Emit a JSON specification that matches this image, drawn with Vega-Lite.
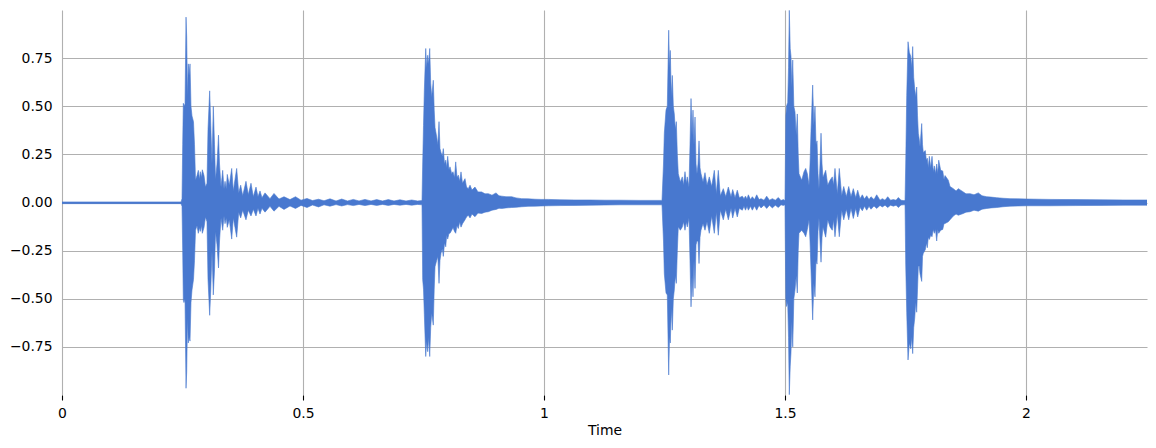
{
  "$schema": "https://vega.github.io/schema/vega-lite/v6.json",
  "width": 1085,
  "height": 385,
  "autosize": {"type": "none"},
  "padding": {"left": 62, "top": 10, "right": 9, "bottom": 53},
  "background": "white",
  "config": {
    "view": {"stroke": null},
    "font": "DejaVu Sans",
    "axis": {
      "labelFont": "DejaVu Sans",
      "titleFont": "DejaVu Sans",
      "labelFontSize": 13.9,
      "titleFontSize": 13.9,
      "labelColor": "black",
      "titleColor": "black",
      "titleFontWeight": "normal",
      "gridColor": "#b0b0b0",
      "gridWidth": 1.1,
      "gridOpacity": 1,
      "domain": false,
      "zindex": 1
    }
  },
  "data": {
    "values": [
      {"t": 0.0, "hi": 0.003, "lo": -0.006},
      {"t": 0.2469, "hi": 0.003, "lo": -0.006},
      {"t": 0.249, "hi": 0.02, "lo": -0.02},
      {"t": 0.2504, "hi": 0.3, "lo": -0.25},
      {"t": 0.2517, "hi": 0.515, "lo": -0.507},
      {"t": 0.2531, "hi": 0.51, "lo": -0.52},
      {"t": 0.2552, "hi": 0.5, "lo": -0.5},
      {"t": 0.2573, "hi": 0.963, "lo": -0.965},
      {"t": 0.2587, "hi": 0.86, "lo": -0.88},
      {"t": 0.2604, "hi": 0.55, "lo": -0.6},
      {"t": 0.262, "hi": 0.72, "lo": -0.73},
      {"t": 0.2635, "hi": 0.66, "lo": -0.7},
      {"t": 0.2656, "hi": 0.72, "lo": -0.72},
      {"t": 0.2676, "hi": 0.5, "lo": -0.52},
      {"t": 0.2697, "hi": 0.45, "lo": -0.455},
      {"t": 0.2728, "hi": 0.42, "lo": -0.4},
      {"t": 0.2749, "hi": 0.3, "lo": -0.3},
      {"t": 0.277, "hi": 0.116, "lo": -0.144},
      {"t": 0.2801, "hi": 0.14, "lo": -0.12},
      {"t": 0.2828, "hi": 0.167, "lo": -0.16},
      {"t": 0.2853, "hi": 0.12, "lo": -0.13},
      {"t": 0.2869, "hi": 0.16, "lo": -0.15},
      {"t": 0.2894, "hi": 0.13, "lo": -0.12},
      {"t": 0.2911, "hi": 0.17, "lo": -0.16},
      {"t": 0.2946, "hi": 0.14, "lo": -0.13},
      {"t": 0.2977, "hi": 0.08, "lo": -0.075},
      {"t": 0.3008, "hi": 0.1, "lo": -0.1},
      {"t": 0.3029, "hi": 0.38, "lo": -0.4},
      {"t": 0.3064, "hi": 0.58, "lo": -0.586},
      {"t": 0.3087, "hi": 0.4, "lo": -0.45},
      {"t": 0.3112, "hi": 0.2, "lo": -0.25},
      {"t": 0.3139, "hi": 0.5, "lo": -0.48},
      {"t": 0.3164, "hi": 0.3, "lo": -0.35},
      {"t": 0.3185, "hi": 0.12, "lo": -0.15},
      {"t": 0.3216, "hi": 0.2, "lo": -0.22},
      {"t": 0.3247, "hi": 0.35, "lo": -0.34},
      {"t": 0.3268, "hi": 0.2, "lo": -0.2},
      {"t": 0.3299, "hi": 0.08, "lo": -0.08},
      {"t": 0.3334, "hi": 0.167, "lo": -0.144},
      {"t": 0.3361, "hi": 0.07, "lo": -0.07},
      {"t": 0.3382, "hi": 0.11, "lo": -0.11},
      {"t": 0.3409, "hi": 0.07, "lo": -0.08},
      {"t": 0.3429, "hi": 0.146, "lo": -0.129},
      {"t": 0.3471, "hi": 0.09, "lo": -0.09},
      {"t": 0.3521, "hi": 0.177, "lo": -0.19},
      {"t": 0.3554, "hi": 0.06, "lo": -0.08},
      {"t": 0.3589, "hi": 0.12, "lo": -0.13},
      {"t": 0.3624, "hi": 0.177, "lo": -0.18},
      {"t": 0.3666, "hi": 0.05, "lo": -0.05},
      {"t": 0.3707, "hi": 0.09, "lo": -0.08},
      {"t": 0.3749, "hi": 0.035, "lo": -0.04},
      {"t": 0.3817, "hi": 0.11, "lo": -0.09},
      {"t": 0.3865, "hi": 0.04, "lo": -0.04},
      {"t": 0.3921, "hi": 0.1, "lo": -0.07},
      {"t": 0.3969, "hi": 0.03, "lo": -0.035},
      {"t": 0.4025, "hi": 0.08, "lo": -0.07},
      {"t": 0.4066, "hi": 0.03, "lo": -0.03},
      {"t": 0.4108, "hi": 0.06, "lo": -0.06},
      {"t": 0.4149, "hi": 0.025, "lo": -0.03},
      {"t": 0.4212, "hi": 0.05, "lo": -0.05},
      {"t": 0.4315, "hi": 0.02, "lo": -0.02},
      {"t": 0.4398, "hi": 0.047, "lo": -0.045},
      {"t": 0.4502, "hi": 0.018, "lo": -0.02},
      {"t": 0.4606, "hi": 0.03, "lo": -0.036},
      {"t": 0.473, "hi": 0.015, "lo": -0.018},
      {"t": 0.4844, "hi": 0.03, "lo": -0.031},
      {"t": 0.4959, "hi": 0.012, "lo": -0.015},
      {"t": 0.5083, "hi": 0.021, "lo": -0.026},
      {"t": 0.5197, "hi": 0.01, "lo": -0.013},
      {"t": 0.5322, "hi": 0.017, "lo": -0.023},
      {"t": 0.5436, "hi": 0.009, "lo": -0.012},
      {"t": 0.556, "hi": 0.019, "lo": -0.019},
      {"t": 0.5685, "hi": 0.008, "lo": -0.011},
      {"t": 0.5803, "hi": 0.018, "lo": -0.018},
      {"t": 0.5923, "hi": 0.008, "lo": -0.011},
      {"t": 0.6044, "hi": 0.016, "lo": -0.016},
      {"t": 0.6162, "hi": 0.008, "lo": -0.01},
      {"t": 0.6286, "hi": 0.016, "lo": -0.016},
      {"t": 0.6411, "hi": 0.008, "lo": -0.01},
      {"t": 0.6529, "hi": 0.015, "lo": -0.015},
      {"t": 0.6649, "hi": 0.008, "lo": -0.01},
      {"t": 0.677, "hi": 0.015, "lo": -0.015},
      {"t": 0.6888, "hi": 0.008, "lo": -0.01},
      {"t": 0.7012, "hi": 0.014, "lo": -0.014},
      {"t": 0.7137, "hi": 0.008, "lo": -0.01},
      {"t": 0.7255, "hi": 0.013, "lo": -0.014},
      {"t": 0.7376, "hi": 0.008, "lo": -0.01},
      {"t": 0.7469, "hi": 0.01, "lo": -0.012},
      {"t": 0.7483, "hi": 0.2, "lo": -0.4},
      {"t": 0.75, "hi": 0.4, "lo": -0.45},
      {"t": 0.7517, "hi": 0.58, "lo": -0.58},
      {"t": 0.7546, "hi": 0.8, "lo": -0.8},
      {"t": 0.7566, "hi": 0.7, "lo": -0.72},
      {"t": 0.7587, "hi": 0.765, "lo": -0.775},
      {"t": 0.7608, "hi": 0.72, "lo": -0.7},
      {"t": 0.7629, "hi": 0.8, "lo": -0.8},
      {"t": 0.7649, "hi": 0.62, "lo": -0.65},
      {"t": 0.767, "hi": 0.548, "lo": -0.575},
      {"t": 0.7703, "hi": 0.635, "lo": -0.637},
      {"t": 0.7722, "hi": 0.48, "lo": -0.45},
      {"t": 0.7739, "hi": 0.39, "lo": -0.334},
      {"t": 0.7774, "hi": 0.34, "lo": -0.3},
      {"t": 0.7797, "hi": 0.3, "lo": -0.28},
      {"t": 0.7822, "hi": 0.42, "lo": -0.42},
      {"t": 0.7842, "hi": 0.28, "lo": -0.3},
      {"t": 0.7863, "hi": 0.26, "lo": -0.264},
      {"t": 0.789, "hi": 0.24, "lo": -0.24},
      {"t": 0.7911, "hi": 0.28, "lo": -0.28},
      {"t": 0.7936, "hi": 0.2, "lo": -0.21},
      {"t": 0.7961, "hi": 0.22, "lo": -0.23},
      {"t": 0.7981, "hi": 0.18, "lo": -0.17},
      {"t": 0.8002, "hi": 0.24, "lo": -0.19},
      {"t": 0.8029, "hi": 0.17, "lo": -0.16},
      {"t": 0.805, "hi": 0.185, "lo": -0.16},
      {"t": 0.8085, "hi": 0.15, "lo": -0.144},
      {"t": 0.8112, "hi": 0.16, "lo": -0.13},
      {"t": 0.8143, "hi": 0.13, "lo": -0.15},
      {"t": 0.8168, "hi": 0.211, "lo": -0.16},
      {"t": 0.8195, "hi": 0.13, "lo": -0.12},
      {"t": 0.8222, "hi": 0.142, "lo": -0.135},
      {"t": 0.8251, "hi": 0.11, "lo": -0.1},
      {"t": 0.8278, "hi": 0.159, "lo": -0.128},
      {"t": 0.8309, "hi": 0.1, "lo": -0.11},
      {"t": 0.8361, "hi": 0.124, "lo": -0.09},
      {"t": 0.8392, "hi": 0.08, "lo": -0.075},
      {"t": 0.8429, "hi": 0.072, "lo": -0.066},
      {"t": 0.8465, "hi": 0.09, "lo": -0.08},
      {"t": 0.8506, "hi": 0.065, "lo": -0.06},
      {"t": 0.8568, "hi": 0.08, "lo": -0.074},
      {"t": 0.8631, "hi": 0.055, "lo": -0.055},
      {"t": 0.8707, "hi": 0.055, "lo": -0.057},
      {"t": 0.8776, "hi": 0.045, "lo": -0.05},
      {"t": 0.8844, "hi": 0.046, "lo": -0.048},
      {"t": 0.8921, "hi": 0.038, "lo": -0.04},
      {"t": 0.9004, "hi": 0.05, "lo": -0.036},
      {"t": 0.9066, "hi": 0.035, "lo": -0.03},
      {"t": 0.9122, "hi": 0.033, "lo": -0.031},
      {"t": 0.9212, "hi": 0.03, "lo": -0.028},
      {"t": 0.933, "hi": 0.03, "lo": -0.026},
      {"t": 0.9419, "hi": 0.024, "lo": -0.025},
      {"t": 0.9537, "hi": 0.02, "lo": -0.022},
      {"t": 0.9668, "hi": 0.019, "lo": -0.02},
      {"t": 0.9813, "hi": 0.017, "lo": -0.019},
      {"t": 0.9938, "hi": 0.016, "lo": -0.018},
      {"t": 1.0089, "hi": 0.016, "lo": -0.017},
      {"t": 1.0332, "hi": 0.014, "lo": -0.016},
      {"t": 1.0643, "hi": 0.013, "lo": -0.015},
      {"t": 1.0954, "hi": 0.013, "lo": -0.014},
      {"t": 1.1266, "hi": 0.012, "lo": -0.013},
      {"t": 1.1577, "hi": 0.012, "lo": -0.012},
      {"t": 1.1992, "hi": 0.011, "lo": -0.012},
      {"t": 1.2448, "hi": 0.011, "lo": -0.012},
      {"t": 1.2479, "hi": 0.2, "lo": -0.2},
      {"t": 1.2496, "hi": 0.36, "lo": -0.37},
      {"t": 1.2531, "hi": 0.48, "lo": -0.47},
      {"t": 1.2558, "hi": 0.5, "lo": -0.48},
      {"t": 1.2587, "hi": 0.895, "lo": -0.896},
      {"t": 1.2604, "hi": 0.7, "lo": -0.7},
      {"t": 1.262, "hi": 0.79, "lo": -0.73},
      {"t": 1.2641, "hi": 0.55, "lo": -0.55},
      {"t": 1.2662, "hi": 0.66, "lo": -0.663},
      {"t": 1.2683, "hi": 0.5, "lo": -0.5},
      {"t": 1.2703, "hi": 0.46, "lo": -0.455},
      {"t": 1.2724, "hi": 0.38, "lo": -0.38},
      {"t": 1.2745, "hi": 0.42, "lo": -0.42},
      {"t": 1.2766, "hi": 0.25, "lo": -0.25},
      {"t": 1.2786, "hi": 0.15, "lo": -0.126},
      {"t": 1.2828, "hi": 0.107, "lo": -0.144},
      {"t": 1.2869, "hi": 0.133, "lo": -0.127},
      {"t": 1.2894, "hi": 0.09, "lo": -0.1},
      {"t": 1.2925, "hi": 0.16, "lo": -0.144},
      {"t": 1.2952, "hi": 0.1, "lo": -0.1},
      {"t": 1.2973, "hi": 0.133, "lo": -0.127},
      {"t": 1.3008, "hi": 0.08, "lo": -0.08},
      {"t": 1.3029, "hi": 0.3, "lo": -0.3},
      {"t": 1.305, "hi": 0.54, "lo": -0.542},
      {"t": 1.3071, "hi": 0.35, "lo": -0.38},
      {"t": 1.3091, "hi": 0.48, "lo": -0.49},
      {"t": 1.3112, "hi": 0.3, "lo": -0.3},
      {"t": 1.3133, "hi": 0.444, "lo": -0.446},
      {"t": 1.3154, "hi": 0.2, "lo": -0.22},
      {"t": 1.3174, "hi": 0.15, "lo": -0.2},
      {"t": 1.3195, "hi": 0.2, "lo": -0.2},
      {"t": 1.3216, "hi": 0.32, "lo": -0.317},
      {"t": 1.3237, "hi": 0.18, "lo": -0.18},
      {"t": 1.3257, "hi": 0.15, "lo": -0.144},
      {"t": 1.3299, "hi": 0.107, "lo": -0.109},
      {"t": 1.334, "hi": 0.155, "lo": -0.144},
      {"t": 1.3382, "hi": 0.09, "lo": -0.1},
      {"t": 1.3429, "hi": 0.133, "lo": -0.16},
      {"t": 1.3479, "hi": 0.083, "lo": -0.07},
      {"t": 1.3533, "hi": 0.167, "lo": -0.16},
      {"t": 1.3575, "hi": 0.046, "lo": -0.05},
      {"t": 1.3616, "hi": 0.167, "lo": -0.17},
      {"t": 1.3658, "hi": 0.035, "lo": -0.04},
      {"t": 1.372, "hi": 0.072, "lo": -0.09},
      {"t": 1.377, "hi": 0.03, "lo": -0.035},
      {"t": 1.3824, "hi": 0.08, "lo": -0.09},
      {"t": 1.388, "hi": 0.03, "lo": -0.03},
      {"t": 1.3915, "hi": 0.067, "lo": -0.08},
      {"t": 1.3963, "hi": 0.025, "lo": -0.03},
      {"t": 1.401, "hi": 0.064, "lo": -0.075},
      {"t": 1.4052, "hi": 0.025, "lo": -0.03},
      {"t": 1.4114, "hi": 0.033, "lo": -0.04},
      {"t": 1.4149, "hi": 0.02, "lo": -0.02},
      {"t": 1.418, "hi": 0.033, "lo": -0.04},
      {"t": 1.4212, "hi": 0.018, "lo": -0.02},
      {"t": 1.4239, "hi": 0.04, "lo": -0.04},
      {"t": 1.4284, "hi": 0.015, "lo": -0.02},
      {"t": 1.4322, "hi": 0.03, "lo": -0.04},
      {"t": 1.4367, "hi": 0.015, "lo": -0.018},
      {"t": 1.4413, "hi": 0.04, "lo": -0.04},
      {"t": 1.4461, "hi": 0.015, "lo": -0.015},
      {"t": 1.4502, "hi": 0.02, "lo": -0.028},
      {"t": 1.4564, "hi": 0.012, "lo": -0.014},
      {"t": 1.462, "hi": 0.033, "lo": -0.031},
      {"t": 1.4678, "hi": 0.012, "lo": -0.014},
      {"t": 1.4737, "hi": 0.02, "lo": -0.028},
      {"t": 1.4799, "hi": 0.012, "lo": -0.014},
      {"t": 1.4861, "hi": 0.026, "lo": -0.026},
      {"t": 1.4917, "hi": 0.01, "lo": -0.012},
      {"t": 1.4965, "hi": 0.015, "lo": -0.015},
      {"t": 1.5, "hi": 0.01, "lo": -0.012},
      {"t": 1.5017, "hi": 0.45, "lo": -0.5},
      {"t": 1.5031, "hi": 0.5, "lo": -0.54},
      {"t": 1.5056, "hi": 0.52, "lo": -0.52},
      {"t": 1.5073, "hi": 0.7, "lo": -0.7},
      {"t": 1.5089, "hi": 0.998, "lo": -0.998},
      {"t": 1.5108, "hi": 0.8, "lo": -0.85},
      {"t": 1.5124, "hi": 0.76, "lo": -0.78},
      {"t": 1.5141, "hi": 0.6, "lo": -0.62},
      {"t": 1.516, "hi": 0.74, "lo": -0.75},
      {"t": 1.5183, "hi": 0.5, "lo": -0.5},
      {"t": 1.5207, "hi": 0.47, "lo": -0.455},
      {"t": 1.5232, "hi": 0.35, "lo": -0.38},
      {"t": 1.5255, "hi": 0.46, "lo": -0.47},
      {"t": 1.5274, "hi": 0.25, "lo": -0.25},
      {"t": 1.529, "hi": 0.15, "lo": -0.16},
      {"t": 1.5346, "hi": 0.116, "lo": -0.144},
      {"t": 1.5394, "hi": 0.16, "lo": -0.16},
      {"t": 1.5429, "hi": 0.177, "lo": -0.178},
      {"t": 1.5463, "hi": 0.15, "lo": -0.14},
      {"t": 1.5498, "hi": 0.09, "lo": -0.09},
      {"t": 1.5519, "hi": 0.2, "lo": -0.2},
      {"t": 1.5539, "hi": 0.37, "lo": -0.35},
      {"t": 1.5574, "hi": 0.61, "lo": -0.61},
      {"t": 1.5598, "hi": 0.4, "lo": -0.42},
      {"t": 1.5622, "hi": 0.5, "lo": -0.49},
      {"t": 1.5643, "hi": 0.3, "lo": -0.3},
      {"t": 1.5664, "hi": 0.32, "lo": -0.32},
      {"t": 1.5685, "hi": 0.15, "lo": -0.15},
      {"t": 1.5705, "hi": 0.072, "lo": -0.08},
      {"t": 1.5726, "hi": 0.2, "lo": -0.2},
      {"t": 1.5747, "hi": 0.36, "lo": -0.31},
      {"t": 1.5768, "hi": 0.2, "lo": -0.18},
      {"t": 1.5788, "hi": 0.13, "lo": -0.127},
      {"t": 1.5844, "hi": 0.167, "lo": -0.18},
      {"t": 1.5886, "hi": 0.09, "lo": -0.09},
      {"t": 1.5934, "hi": 0.116, "lo": -0.127},
      {"t": 1.5981, "hi": 0.133, "lo": -0.144},
      {"t": 1.6006, "hi": 0.09, "lo": -0.09},
      {"t": 1.6037, "hi": 0.177, "lo": -0.178},
      {"t": 1.6085, "hi": 0.046, "lo": -0.06},
      {"t": 1.6126, "hi": 0.177, "lo": -0.178},
      {"t": 1.6176, "hi": 0.035, "lo": -0.04},
      {"t": 1.6218, "hi": 0.083, "lo": -0.09},
      {"t": 1.6272, "hi": 0.03, "lo": -0.035},
      {"t": 1.6322, "hi": 0.083, "lo": -0.09},
      {"t": 1.6369, "hi": 0.03, "lo": -0.03},
      {"t": 1.6417, "hi": 0.072, "lo": -0.083},
      {"t": 1.6467, "hi": 0.025, "lo": -0.03},
      {"t": 1.6508, "hi": 0.064, "lo": -0.075},
      {"t": 1.6556, "hi": 0.02, "lo": -0.025},
      {"t": 1.6604, "hi": 0.04, "lo": -0.043},
      {"t": 1.6649, "hi": 0.018, "lo": -0.02},
      {"t": 1.6695, "hi": 0.035, "lo": -0.04},
      {"t": 1.6743, "hi": 0.015, "lo": -0.02},
      {"t": 1.6784, "hi": 0.03, "lo": -0.035},
      {"t": 1.6846, "hi": 0.015, "lo": -0.018},
      {"t": 1.6902, "hi": 0.04, "lo": -0.031},
      {"t": 1.6971, "hi": 0.012, "lo": -0.015},
      {"t": 1.7019, "hi": 0.02, "lo": -0.023},
      {"t": 1.7075, "hi": 0.012, "lo": -0.014},
      {"t": 1.7131, "hi": 0.03, "lo": -0.026},
      {"t": 1.7189, "hi": 0.012, "lo": -0.014},
      {"t": 1.7247, "hi": 0.015, "lo": -0.019},
      {"t": 1.7303, "hi": 0.012, "lo": -0.014},
      {"t": 1.7351, "hi": 0.026, "lo": -0.026},
      {"t": 1.7407, "hi": 0.012, "lo": -0.013},
      {"t": 1.7454, "hi": 0.01, "lo": -0.012},
      {"t": 1.749, "hi": 0.01, "lo": -0.012},
      {"t": 1.7504, "hi": 0.2, "lo": -0.32},
      {"t": 1.7525, "hi": 0.555, "lo": -0.57},
      {"t": 1.7552, "hi": 0.835, "lo": -0.818},
      {"t": 1.7579, "hi": 0.78, "lo": -0.73},
      {"t": 1.7608, "hi": 0.76, "lo": -0.76},
      {"t": 1.7629, "hi": 0.7, "lo": -0.7},
      {"t": 1.7649, "hi": 0.81, "lo": -0.785},
      {"t": 1.767, "hi": 0.65, "lo": -0.65},
      {"t": 1.7691, "hi": 0.59, "lo": -0.6},
      {"t": 1.7712, "hi": 0.55, "lo": -0.52},
      {"t": 1.7732, "hi": 0.6, "lo": -0.57},
      {"t": 1.7749, "hi": 0.45, "lo": -0.45},
      {"t": 1.7766, "hi": 0.36, "lo": -0.33},
      {"t": 1.7784, "hi": 0.33, "lo": -0.33},
      {"t": 1.7801, "hi": 0.29, "lo": -0.37},
      {"t": 1.7836, "hi": 0.41, "lo": -0.41},
      {"t": 1.7853, "hi": 0.3, "lo": -0.28},
      {"t": 1.7869, "hi": 0.26, "lo": -0.264},
      {"t": 1.7911, "hi": 0.27, "lo": -0.245},
      {"t": 1.7932, "hi": 0.22, "lo": -0.21},
      {"t": 1.7952, "hi": 0.23, "lo": -0.235},
      {"t": 1.7973, "hi": 0.18, "lo": -0.18},
      {"t": 1.7994, "hi": 0.24, "lo": -0.192},
      {"t": 1.8023, "hi": 0.18, "lo": -0.17},
      {"t": 1.805, "hi": 0.24, "lo": -0.178},
      {"t": 1.8075, "hi": 0.16, "lo": -0.14},
      {"t": 1.8098, "hi": 0.19, "lo": -0.16},
      {"t": 1.8122, "hi": 0.15, "lo": -0.14},
      {"t": 1.8147, "hi": 0.2, "lo": -0.2},
      {"t": 1.8168, "hi": 0.15, "lo": -0.14},
      {"t": 1.8189, "hi": 0.22, "lo": -0.16},
      {"t": 1.823, "hi": 0.167, "lo": -0.144},
      {"t": 1.8272, "hi": 0.164, "lo": -0.14},
      {"t": 1.8299, "hi": 0.12, "lo": -0.11},
      {"t": 1.832, "hi": 0.14, "lo": -0.109},
      {"t": 1.8388, "hi": 0.116, "lo": -0.1},
      {"t": 1.8423, "hi": 0.083, "lo": -0.09},
      {"t": 1.8492, "hi": 0.072, "lo": -0.07},
      {"t": 1.8548, "hi": 0.06, "lo": -0.06},
      {"t": 1.8595, "hi": 0.072, "lo": -0.066},
      {"t": 1.8699, "hi": 0.055, "lo": -0.057},
      {"t": 1.8755, "hi": 0.045, "lo": -0.05},
      {"t": 1.8838, "hi": 0.046, "lo": -0.048},
      {"t": 1.8921, "hi": 0.04, "lo": -0.04},
      {"t": 1.901, "hi": 0.05, "lo": -0.045},
      {"t": 1.9087, "hi": 0.035, "lo": -0.035},
      {"t": 1.9185, "hi": 0.03, "lo": -0.031},
      {"t": 1.9274, "hi": 0.028, "lo": -0.028},
      {"t": 1.9392, "hi": 0.025, "lo": -0.026},
      {"t": 1.9523, "hi": 0.022, "lo": -0.022},
      {"t": 1.9668, "hi": 0.02, "lo": -0.019},
      {"t": 1.9834, "hi": 0.019, "lo": -0.018},
      {"t": 2.0014, "hi": 0.018, "lo": -0.017},
      {"t": 2.0498, "hi": 0.016, "lo": -0.017},
      {"t": 2.1017, "hi": 0.015, "lo": -0.016},
      {"t": 2.1535, "hi": 0.014, "lo": -0.015},
      {"t": 2.2054, "hi": 0.013, "lo": -0.014},
      {"t": 2.251, "hi": 0.013, "lo": -0.014}
    ]
  },
  "mark": {"type": "area", "color": "#4878cf", "stroke": "#4878cf", "strokeWidth": 0.6, "clip": true},
  "encoding": {
    "x": {
      "field": "t",
      "type": "quantitative",
      "scale": {"domain": [0, 2.251], "nice": false, "zero": false},
      "axis": {
        "title": "Time",
        "values": [0, 0.5, 1, 1.5, 2],
        "format": "~g",
        "grid": true,
        "ticks": true,
        "tickColor": "black",
        "tickSize": 5,
        "tickWidth": 1.1,
        "labelPadding": 6,
        "labelFlush": false,
        "titlePadding": 4
      }
    },
    "y": {
      "field": "hi",
      "type": "quantitative",
      "scale": {"domain": [-1, 1], "nice": false},
      "axis": {
        "title": null,
        "values": [-0.75, -0.5, -0.25, 0, 0.25, 0.5, 0.75],
        "format": ".2f",
        "grid": true,
        "ticks": false,
        "labelPadding": 10
      }
    },
    "y2": {"field": "lo"}
  }
}
